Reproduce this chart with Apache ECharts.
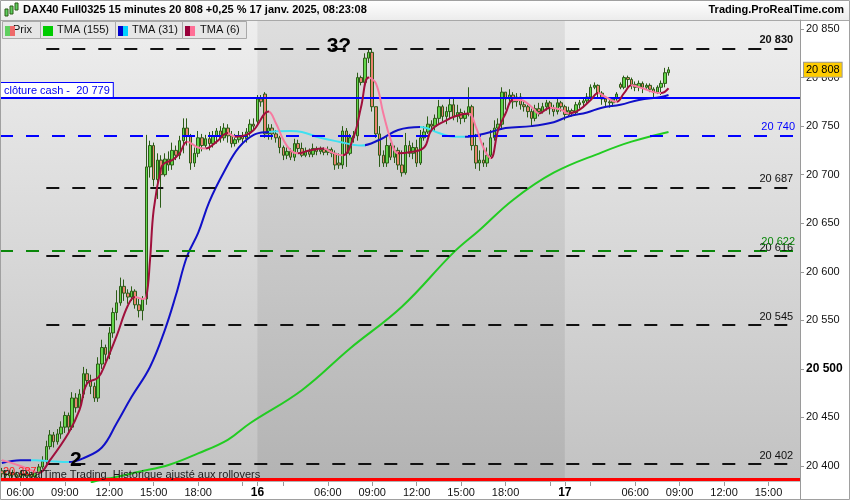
<!DOCTYPE html>
<html><head><meta charset="utf-8"><title>DAX40 Full0325</title>
<script src="https://cdn.jsdelivr.net/npm/echarts@6.0.0/dist/echarts.min.js"></script>
<style>html,body{margin:0;padding:0;background:#fff;}#chart{width:850px;height:500px;}</style>
</head><body><div id="chart"></div><script>
// ---------- DATA ----------
const sessions = [
  {day:'15', start:'04:45', end:'21:45'},
  {day:'16', start:'01:15', end:'21:45'},
  {day:'17', start:'01:15', end:'17:00'}
];
// [open, close, low, high] per 15-minute bar
const candles = [
[20395,20392,20388,20398],[20392,20390,20387,20395],[20390,20393,20387,20396],[20393,20391,20388,20396],
[20391,20389,20386,20394],[20389,20392,20386,20395],[20392,20390,20387,20395],[20390,20391,20387,20394],
[20391,20389,20386,20394],[20389,20393,20387,20397],[20393,20399,20391,20402],[20399,20405,20397,20410],
[20405,20420,20403,20426],[20420,20432,20417,20437],[20432,20425,20419,20435],[20425,20433,20422,20438],
[20433,20440,20428,20446],[20440,20452,20434,20456],[20452,20440,20434,20455],[20440,20470,20437,20476],
[20470,20460,20455,20475],[20460,20474,20457,20479],[20474,20495,20470,20502],[20495,20488,20482,20500],
[20488,20482,20474,20494],[20482,20470,20466,20486],[20470,20505,20466,20512],[20505,20522,20500,20530],
[20522,20515,20508,20525],[20515,20537,20510,20543],[20537,20558,20532,20563],[20558,20568,20550,20581],
[20568,20585,20565,20594],[20585,20578,20570,20592],[20578,20574,20567,20582],[20574,20580,20570,20585],
[20580,20566,20562,20582],[20566,20560,20553,20572],[20560,20572,20550,20575],[20572,20708,20566,20741],
[20708,20730,20697,20735],[20730,20695,20688,20733],[20695,20715,20675,20722],[20715,20700,20666,20720],
[20700,20716,20698,20722],[20716,20710,20704,20724],[20710,20725,20705,20733],[20725,20720,20715,20730],
[20720,20735,20716,20740],[20735,20748,20722,20758],[20748,20740,20730,20758],[20740,20712,20705,20742],
[20712,20722,20708,20728],[20722,20738,20718,20745],[20738,20730,20724,20742],[20730,20737,20727,20741],
[20737,20732,20725,20744],[20732,20740,20728,20745],[20740,20745,20732,20748],[20745,20738,20733,20750],
[20738,20748,20735,20753],[20748,20740,20733,20752],[20740,20732,20728,20745],[20732,20736,20729,20742],
[20736,20740,20733,20745],[20740,20737,20732,20744],[20737,20744,20733,20748],[20744,20752,20740,20757],
[20752,20750,20745,20758],
[20755,20778,20752,20782],[20778,20775,20770,20782],[20783,20742,20738,20785],[20742,20748,20736,20752],
[20748,20742,20736,20752],[20742,20738,20733,20746],[20738,20728,20722,20740],[20728,20720,20715,20730],
[20720,20724,20716,20728],[20724,20718,20715,20727],[20718,20732,20714,20737],[20732,20727,20722,20736],
[20727,20720,20718,20733],[20720,20724,20718,20728],[20724,20721,20718,20727],[20721,20727,20718,20732],
[20727,20724,20720,20729],[20724,20726,20721,20729],[20726,20723,20720,20728],[20723,20726,20720,20729],
[20726,20722,20718,20728],[20722,20710,20705,20725],[20712,20710,20706,20722],[20710,20745,20706,20750],
[20745,20722,20708,20748],[20722,20738,20720,20742],[20738,20740,20733,20745],[20740,20800,20735,20805],
[20800,20795,20792,20802],[20795,20820,20792,20825],[20820,20826,20815,20830],[20826,20770,20765,20830],
[20770,20742,20738,20770],[20742,20720,20708,20750],[20720,20712,20708,20725],[20712,20730,20708,20740],
[20730,20718,20715,20733],[20718,20725,20712,20730],[20725,20710,20705,20728],[20710,20702,20698,20725],
[20702,20730,20700,20743],[20730,20722,20718,20735],[20722,20728,20716,20733],[20728,20712,20708,20736],
[20712,20738,20710,20746],[20738,20744,20735,20750],[20744,20752,20742,20760],[20752,20750,20745,20756],
[20750,20758,20745,20762],[20758,20770,20752,20777],[20770,20760,20755,20772],[20760,20765,20752,20770],
[20765,20772,20758,20779],[20772,20760,20756,20778],[20760,20764,20754,20772],[20764,20758,20752,20768],
[20758,20762,20754,20766],[20762,20770,20760,20790],[20770,20730,20725,20772],[20730,20712,20706,20742],
[20712,20715,20704,20725],[20715,20712,20708,20733],[20712,20720,20708,20728],[20720,20738,20718,20746],
[20738,20748,20735,20756],[20748,20752,20742,20758],[20752,20785,20746,20790],[20785,20778,20767,20785],
[20778,20782,20772,20788],[20782,20775,20768,20785],[20775,20780,20770,20784],[20780,20772,20767,20784],
[20772,20770,20765,20776],[20770,20765,20759,20772],[20765,20758,20750,20768],[20758,20768,20755,20772],
[20768,20765,20760,20774],[20765,20770,20763,20774],[20770,20774,20766,20777],[20774,20768,20762,20776],
[20768,20765,20760,20772],[20765,20774,20762,20779],[20774,20770,20765,20776],
[20770,20762,20756,20772],[20762,20766,20760,20770],[20766,20764,20760,20768],[20764,20772,20762,20775],
[20772,20774,20768,20777],[20774,20776,20770,20778],[20776,20780,20773,20784],[20780,20790,20778,20793],
[20790,20792,20788,20795],[20792,20784,20780,20793],[20784,20778,20772,20786],[20778,20775,20770,20780],
[20775,20774,20769,20778],[20774,20778,20770,20780],[20778,20783,20776,20785],[20793,20790,20788,20795],
[20790,20800,20788,20802],[20800,20798,20790,20802],[20798,20793,20788,20800],[20793,20790,20786,20796],
[20790,20794,20786,20797],[20794,20790,20784,20796],[20790,20792,20788,20794],[20792,20788,20785,20794],
[20788,20785,20780,20790],[20785,20790,20783,20792],[20790,20794,20782,20797],[20794,20805,20790,20810],
[20805,20808,20802,20811]
];
// indicator readings [bar index, value]
const tma155 = [[24,20383],[27,20386],[30,20388],[37,20394],[45,20401],[53,20413],[61,20427],[67,20444],
  [81,20478],[94,20521],[108,20564],[122,20620],[129,20643],[138,20674],[149,20702],[162,20723],[170,20734],[180,20744]];
const tma31 = [[0,20403],[5,20406],[9,20406],[13,20405],[18,20404],[22,20408],[27,20419],[31,20444],[35,20471],
  [40,20502],[44,20540],[47,20576],[50,20616],[53,20640],[56,20672],[60,20703],[64,20728],[68,20741],[72,20744],
  [78,20745],[81,20744],[86,20738],[91,20734],[97,20730],[102,20736],[107,20746],[113,20749],[118,20743],
  [122,20739],[125,20739],[131,20743],[136,20748],[143,20750],[149,20754],[153,20760],[158,20764],[162,20769],
  [167,20772],[172,20777],[178,20780],[180,20782]];
const tma6 = [[0,20406],[5,20400],[9,20394],[10,20393],[13,20406],[18,20434],[21,20458],[23,20485],[26,20491],
  [28,20506],[31,20534],[34,20565],[36,20574],[38,20572],[39,20574],[40,20612],[41,20664],[43,20707],[44,20712],
  [46,20715],[48,20722],[50,20734],[53,20728],[55,20727],[58,20734],[61,20743],[63,20739],[66,20741],[68,20746],
  [72,20765],[74,20753],[76,20736],[78,20725],[80,20722],[83,20725],[87,20727],[89,20723],[92,20720],[95,20739],
  [97,20770],[99,20800],[101,20794],[103,20763],[105,20736],[107,20722],[110,20723],[114,20728],[116,20746],
  [120,20756],[123,20761],[126,20763],[128,20749],[130,20728],[132,20717],[134,20746],[136,20763],[138,20777],
  [140,20777],[143,20770],[145,20763],[148,20769],[151,20767],[153,20763],[156,20767],[159,20777],[161,20784],
  [163,20780],[166,20775],[168,20784],[170,20792],[173,20789],[176,20785],[178,20784],[180,20789]];
// bar ranges where the indicator is falling
const tma31Falling = [[8,18],[72,98],[113,125]];
const tma6Falling = [[0,10],[36,39],[50,55],[61,63],[72,80],[87,92],[99,107],[126,132],[138,145],[148,153],[161,166],[170,178]];
const blackLevels = [20830, 20687, 20616, 20545, 20402];
const blueDashLevel = 20740;
const greenDashLevel = 20622;
const cashClose = 20779;
const lastPrice = 20808;
const redLevel = 20386;
const yTicks = [20400,20450,20500,20550,20600,20650,20700,20750,20800,20850];
const notes = [{text:'3?', bar:90.6, value:20832.5}, {text:'2', bar:19.5, value:20406}];

// ---------- BUILD ----------
const FONT = '"Liberation Sans", Arial, sans-serif';
function buildCats(){
  const cats=[];
  sessions.forEach(s=>{
    let [h,m]=s.start.split(':').map(Number);
    const [eh,em]=s.end.split(':').map(Number);
    while(h*60+m<=eh*60+em){
      cats.push(s.day+' '+String(h).padStart(2,'0')+':'+String(m).padStart(2,'0'));
      m+=15; if(m>=60){m-=60;h++;}
    }
  });
  return cats;
}
const cats = buildCats();
const isDayStart = i => i>0 && cats[i].slice(0,2)!==cats[i-1].slice(0,2);
const labelTimes = ['06:00','09:00','12:00','15:00','18:00'];
const tickTimes = ['03:00','21:00'];
const showLabel = i => isDayStart(i) || labelTimes.includes(cats[i].slice(3));
const showTick = i => showLabel(i) || tickTimes.includes(cats[i].slice(3));
const fmt = v => String(Math.round(v)).replace(/\B(?=(\d{3})+(?!\d))/g,' ');

function pieces(ranges, base, alt){
  const out=[]; let prev=-50;
  ranges.forEach(([a,b])=>{ if(a>prev) out.push({gte:prev, lt:a, color:base}); out.push({gte:a, lt:b, color:alt}); prev=b; });
  out.push({gte:prev, lte:1000, color:base});
  return out;
}
const day16 = cats.map((c,i)=>[c,i]).filter(([c])=>c.startsWith('16 ')).map(([c,i])=>i);

const levelLabel = (color, bold) => ({show:true, position:'insideEndTop', distance:[5,3], formatter: p=>fmt(p.value),
  color, fontSize:11, fontFamily:FONT, fontWeight: bold?'bold':'normal'});
const dash = [13,13];
const markLines = [];
blackLevels.forEach((v,k)=>{
  markLines.push([{coord:[12, v], value:v, lineStyle:{color:'#111', width:2, type:dash}, label:levelLabel('#111', k===0)},
                  {coord:[cats.length-1, v], value:v}]);
});
markLines.push({yAxis:blueDashLevel, lineStyle:{color:'#0000ff', width:2, type:dash}, label:levelLabel('#0000ff')});
markLines.push({yAxis:greenDashLevel, lineStyle:{color:'#0a870a', width:2, type:dash}, label:levelLabel('#0a870a')});
markLines.push({yAxis:cashClose, lineStyle:{color:'#0000ff', width:2, type:'solid'},
  label:{show:true, position:'insideStartTop', distance:[1,1], formatter:'clôture cash -  '+fmt(cashClose),
    color:'#0000ee', fontSize:11, fontFamily:FONT, backgroundColor:'#fff', borderColor:'#0000ff', borderWidth:1, padding:[2,3,1,3]}});
markLines.push({yAxis:redLevel, lineStyle:{color:'#ff0000', width:3, type:'solid'}, label:{show:false}});
markLines.push({yAxis:lastPrice, lineStyle:{color:'rgba(0,0,0,0)', width:0}, label:{show:true, position:'end', distance:4, formatter:fmt(lastPrice),
  color:'#000', fontSize:11, fontFamily:FONT, backgroundColor:'#ffcc00', borderColor:'#9a9a9a', borderWidth:1, padding:[2,2,1,2]}});

const chart = echarts.init(document.getElementById('chart'), null, {renderer:'canvas'});
const legendBtns = [
  {x:2, w:38, text:'Prix', c1:'#5fcf5f', c2:'#ee6a6a', tx:13},
  {x:40, w:75, text:'TMA (155)', c1:'#00cc00', c2:'#00cc00', tx:57},
  {x:115, w:67, text:'TMA (31)', c1:'#0000cc', c2:'#00d0ff', tx:132},
  {x:182, w:64, text:'TMA (6)', c1:'#99003a', c2:'#ff6f96', tx:200}
];
const graphics = [
  {type:'rect', shape:{x:0,y:0,width:850,height:20}, style:{fill:{type:'linear',x:0,y:0,x2:0,y2:1,colorStops:[{offset:0,color:'#ffffff'},{offset:1,color:'#ececec'}]}}, z:-5, silent:true},
  {type:'line', shape:{x1:0,y1:20.5,x2:850,y2:20.5}, style:{stroke:'#a8a8a8', lineWidth:1}, z:50},
  {type:'line', shape:{x1:800.5,y1:20,x2:800.5,y2:500}, style:{stroke:'#9a9a9a', lineWidth:1}, z:50},
  {type:'rect', shape:{x:0.5,y:0.5,width:849,height:499}, style:{fill:'none', stroke:'#a0a0a0', lineWidth:1}, z:60},
  {type:'rect', shape:{x:5,y:9,width:3,height:7}, style:{fill:'#5fcf5f', stroke:'#2c5c17', lineWidth:1}, z:50},
  {type:'rect', shape:{x:10,y:6,width:3,height:8}, style:{fill:'#5fcf5f', stroke:'#2c5c17', lineWidth:1}, z:50},
  {type:'rect', shape:{x:15,y:3,width:3,height:7}, style:{fill:'#5fcf5f', stroke:'#2c5c17', lineWidth:1}, z:50},
  {type:'text', left:3, top:466, style:{text:'20 387', fill:'#ff2020', font:'11px '+FONT}, z:40},
  {type:'text', left:3, top:469, style:{text:'ProRealTime Trading  Historique ajusté aux rollovers', fill:'#1a1a1a', font:'11px '+FONT}, z:41}
];
legendBtns.forEach(b=>{
  graphics.push({type:'rect', shape:{x:b.x+0.5,y:21.5,width:b.w,height:17}, style:{fill:'#e6e6e6', stroke:'#a9a9a9', lineWidth:1}, z:50});
  graphics.push({type:'text', x:b.tx, y:24, style:{text:b.text, fill:'#111', font:'11px '+FONT}, z:51});
  graphics.push({type:'rect', shape:{x:b.x+3,y:26,width:5,height:10}, style:{fill:b.c1}, z:52});
  graphics.push({type:'rect', shape:{x:b.x+8,y:26,width:5,height:10}, style:{fill:b.c2}, z:52});
});

const option = {
  animation:false,
  backgroundColor:'#ffffff',
  title:[
    {text:'DAX40 Full0325 15 minutes 20 808 +0,25 % 17 janv. 2025, 08:23:08', left:23, top:4, padding:0,
     textStyle:{fontSize:11, fontWeight:'bold', color:'#000', fontFamily:FONT}},
    {text:'Trading.ProRealTime.com', right:6, top:4, padding:0, textStyle:{fontSize:11, fontWeight:'bold', color:'#000', fontFamily:FONT}}
  ],
  graphic: graphics,
  grid:{left:0, right:50, top:20, bottom:18, show:true, borderWidth:0,
    backgroundColor:{type:'linear',x:0,y:0,x2:0,y2:1,colorStops:[{offset:0,color:'#eeeeee'},{offset:1,color:'#c2c2c2'}]}},
  xAxis:{type:'category', data:cats, boundaryGap:true,
    axisLine:{show:false},
    axisTick:{show:true, length:4, interval:(i)=>showTick(i), alignWithLabel:true, lineStyle:{color:'#999'}},
    axisLabel:{interval:(i)=>showLabel(i), margin:5, fontSize:11, color:'#111', fontFamily:FONT, hideOverlap:false,
      formatter:(v,i)=> isDayStart(i) ? '{b|'+v.slice(0,2)+'}' : v.slice(3),
      rich:{b:{fontWeight:'bold', fontSize:12, fontFamily:FONT, color:'#000'}}},
    splitLine:{show:false}},
  yAxis:{type:'value', position:'right', min:20383.5, max:20859.3, scale:true,
    axisLine:{show:true, lineStyle:{color:'#9a9a9a'}},
    axisTick:{show:true, length:4, customValues:yTicks, lineStyle:{color:'#9a9a9a'}},
    axisLabel:{customValues:yTicks, margin:6, fontSize:11, color:'#111', fontFamily:FONT,
      formatter:v => v===20500 ? '{b|'+fmt(v)+'}' : fmt(v),
      rich:{b:{fontWeight:'bold', fontSize:12, fontFamily:FONT, color:'#000'}}},
    splitLine:{show:false}},
  visualMap:[
    {type:'piecewise', show:false, seriesIndex:3, dimension:0, pieces:pieces(tma31Falling,'#1010c8','#3fe0f0')},
    {type:'piecewise', show:false, seriesIndex:4, dimension:0, pieces:pieces(tma6Falling,'#a0103c','#f77aa0')}
  ],
  series:[
    {type:'line', name:'levels', data:[], z:1, silent:true, symbol:'none',
      markArea:{silent:true, itemStyle:{color:{type:'linear',x:0,y:0,x2:0,y2:1,colorStops:[{offset:0,color:'#dedede'},{offset:1,color:'#b3b3b3'}]}},
        data:[[{xAxis:day16[0]-0.5}, {xAxis:day16[day16.length-1]+0.5}]]},
      markLine:{silent:true, symbol:['none','none'], animation:false, data:markLines},
      markPoint:{silent:true, symbol:'circle', symbolSize:0,
        data: notes.map(n=>({coord:[n.bar, n.value], value:n.text})),
        label:{show:true, position:'inside', formatter:p=>p.value, fontSize:21, fontWeight:'bold', color:'#000', fontFamily:FONT}}},
    {type:'candlestick', name:'Prix', data:candles, barWidth:3, z:2,
      itemStyle:{color:'#62d64a', color0:'#ea8470', borderColor:'#2c5c17', borderColor0:'#2c5c17', borderWidth:1}},
    {type:'line', name:'TMA (155)', data:tma155, smooth:0.4, symbol:'none', z:3, lineStyle:{width:2, color:'#22cc22'}},
    {type:'line', name:'TMA (31)', data:tma31, smooth:0.4, symbol:'none', z:4, lineStyle:{width:2}},
    {type:'line', name:'TMA (6)', data:tma6, smooth:0.4, symbol:'none', z:5, lineStyle:{width:2}}
  ]
};
chart.setOption(option);
</script></body></html>
